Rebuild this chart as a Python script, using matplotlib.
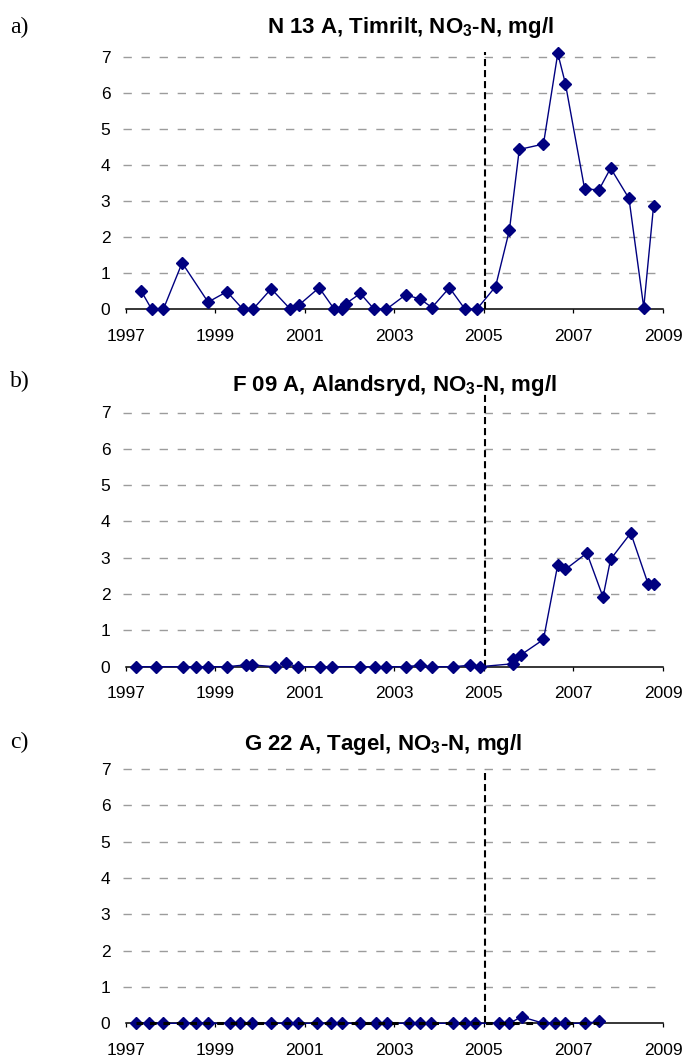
import matplotlib
matplotlib.use("Agg")
import matplotlib.pyplot as plt

plt.rcParams['font.family'] = ['Liberation Sans', 'DejaVu Sans']
plt.rcParams['mathtext.fontset'] = 'custom'
plt.rcParams['mathtext.bf'] = 'Liberation Sans:bold'
plt.rcParams['mathtext.rm'] = 'Liberation Sans'
plt.rcParams['mathtext.default'] = 'bf'

# ---------------- data ----------------
a_years = [1997.34, 1997.58, 1997.84, 1998.26, 1998.84, 1999.26, 1999.62, 1999.84,
           2000.25, 2000.68, 2000.86, 2001.32, 2001.66, 2001.82, 2001.92, 2002.24,
           2002.55, 2002.82, 2003.25, 2003.57, 2003.84, 2004.23, 2004.58, 2004.84,
           2005.26, 2005.57, 2005.79, 2006.33, 2006.65, 2006.82, 2007.25, 2007.57,
           2007.83, 2008.24, 2008.57, 2008.79]
a_values = [0.52, 0.0, 0.0, 1.29, 0.20, 0.49, 0.0, 0.0,
            0.57, 0.0, 0.11, 0.60, 0.0, 0.0, 0.16, 0.44,
            0.0, 0.0, 0.40, 0.29, 0.05, 0.60, 0.0, 0.0,
            0.63, 2.20, 4.44, 4.59, 7.11, 6.27, 3.34, 3.32,
            3.92, 3.08, 0.05, 2.88]

b_years = [1997.24, 1997.67, 1998.27, 1998.58, 1998.84, 1999.26, 1999.68, 1999.81,
           2000.33, 2000.58, 2000.85, 2001.33, 2001.60, 2002.24, 2002.57, 2002.82,
           2003.25, 2003.57, 2003.84, 2004.32, 2004.68, 2004.91, 2005.64, 2005.66,
           2005.82, 2006.33, 2006.65, 2006.82, 2007.30, 2007.66, 2007.83, 2008.28,
           2008.67, 2008.80]
b_values = [0.0, 0.0, 0.0, 0.0, 0.0, 0.0, 0.05, 0.05,
            0.0, 0.09, 0.0, 0.0, 0.0, 0.0, 0.0, 0.0,
            0.0, 0.04, 0.0, 0.0, 0.04, 0.0, 0.08, 0.20,
            0.32, 0.75, 2.81, 2.68, 3.13, 1.92, 2.96, 3.68,
            2.27, 2.27]

c_years = [1997.24, 1997.51, 1997.84, 1998.27, 1998.58, 1998.84, 1999.33, 1999.55,
           1999.81, 2000.25, 2000.60, 2000.84, 2001.27, 2001.58, 2001.84, 2002.23,
           2002.59, 2002.84, 2003.33, 2003.58, 2003.82, 2004.32, 2004.58, 2004.81,
           2005.33, 2005.57, 2005.84, 2006.33, 2006.59, 2006.82, 2007.25, 2007.57]
c_values = [0.0, 0.0, 0.0, 0.0, 0.0, 0.0, 0.0, 0.0,
            0.0, 0.0, 0.0, 0.0, 0.0, 0.0, 0.0, 0.0,
            0.0, 0.0, 0.0, 0.0, 0.0, 0.0, 0.0, 0.0,
            0.0, 0.0, 0.18, 0.0, 0.0, 0.0, 0.0, 0.05]

titles = [r'N 13 A, Timrilt, NO$_3$-N, mg/l',
          r'F 09 A, Alandsryd, NO$_3$-N, mg/l',
          r'G 22 A, Tagel, NO$_3$-N, mg/l']
panel_labels = ['a)', 'b)', 'c)']
x_ticks = [1997, 1999, 2001, 2003, 2005, 2007, 2009]
y_ticks = [0, 1, 2, 3, 4, 5, 6, 7]
event_year = 2005.02

# ---------------- layout (pixels) ----------------
W, H = 684, 1061
x_left, x_right = 125.7, 663.0
panels = [  # y of 0, y of 7, vline top, title centre x, title baseline, label y
    dict(y0=309.3, y7=57.3, vtop=7.15, tx=410, ty=33.5, ly=27),
    dict(y0=666.7, y7=412.5, vtop=7.5, tx=395, ty=391, ly=381),
    dict(y0=1023.3, y7=769.0, vtop=7.0, tx=383, ty=750, ly=742),
]
series = [(a_years, a_values), (b_years, b_values), (c_years, c_values)]

fig = plt.figure(figsize=(W / 100, H / 100), dpi=100)
navy = '#000080'

for i, (p, (xs, ys)) in enumerate(zip(panels, series)):
    ax = fig.add_axes([x_left / W, 1 - p['y0'] / H,
                       (x_right - x_left) / W, (p['y0'] - p['y7']) / H])
    ax.set_xlim(1997, 2009)
    ax.set_ylim(0, 7)
    for s in ['top', 'right', 'left']:
        ax.spines[s].set_visible(False)
    ax.spines['bottom'].set_linewidth(1.1)
    ax.spines['bottom'].set_color('black')
    ax.set_xticks(x_ticks)
    ax.set_yticks(y_ticks)
    ax.tick_params(axis='x', direction='out', length=3.2, width=0.9, pad=11,
                   labelsize=12.5, colors='black')
    ax.tick_params(axis='y', length=0, pad=11, labelsize=12.5)
    # dashed grid lines
    ax.hlines(y_ticks[1:], 1996.94, 2008.84, colors='#9c9c9c',
              linestyles=(0, (6, 7)), linewidth=1.0, zorder=1, clip_on=False)
    # vertical marker line
    ax.vlines(event_year, 0, p['vtop'], colors='black',
              linestyles=(0, (3.4, 1.9)), linewidth=1.5, zorder=2, clip_on=False)
    ax.plot(xs, ys, color=navy, linewidth=1.0, marker='D', markersize=6,
            markeredgecolor=navy, markerfacecolor=navy, zorder=3, clip_on=False)
    if i == 2:
        ax.hlines(0, xs[0], xs[-1], colors='black', linestyles=(0, (2.2, 2.2)),
                  linewidth=2.2, zorder=4, clip_on=False)

    fig.text(p['tx'] / W, 1 - p['ty'] / H, titles[i], ha='center', va='baseline',
             fontsize=16, fontweight='bold')
    fig.text(10 / W, 1 - p['ly'] / H, panel_labels[i], ha='left', va='center',
             fontsize=17, family='Liberation Serif')

fig.savefig('out.png', dpi=100)
